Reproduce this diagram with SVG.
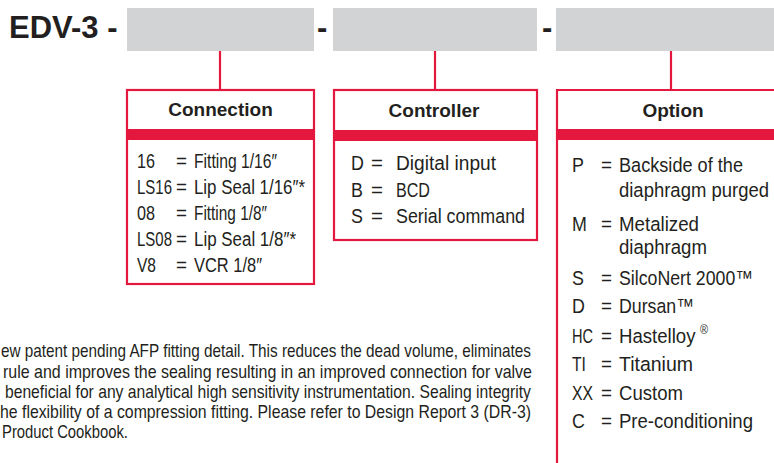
<svg xmlns="http://www.w3.org/2000/svg" width="774" height="463" viewBox="0 0 774 463">
<style>
.t{font-family:"Liberation Sans",Arial,sans-serif;fill:#231f20}
.c{font-size:19.5px}
.b{font-size:20.5px}
.p{font-size:18px}
.h{font-family:"Liberation Sans",Arial,sans-serif;font-weight:bold;font-size:19px;fill:#231f20;text-anchor:middle}
.big{font-family:"Liberation Sans",Arial,sans-serif;font-weight:bold;font-size:31px;fill:#231f20}
.slot{fill:#d1d3d4}
.box{fill:#fff;stroke:#e4173e;stroke-width:2.2}
.band{fill:#e4173e}
.ln{stroke:#e4173e;stroke-width:2.2;fill:none}
</style>
<rect width="774" height="463" fill="#fff"/>
<g id="title">
<text class="big" x="9" y="38">EDV-3 -</text>
<rect class="slot" x="127" y="8" width="187" height="43"/>
<text class="big" x="317" y="38">-</text>
<rect class="slot" x="333" y="8" width="204" height="43"/>
<text class="big" x="542" y="38">-</text>
<rect class="slot" x="556" y="8" width="218" height="43"/>
</g>
<g id="connectors">
<line class="ln" x1="220" y1="51" x2="220" y2="90"/>
<line class="ln" x1="435" y1="51" x2="435" y2="90"/>
<line class="ln" x1="671" y1="51" x2="671" y2="90"/>
</g>
<g id="connection">
<rect class="box" x="127" y="90" width="187" height="194"/>
<rect class="band" x="127" y="129" width="187" height="11"/>
<text class="h" x="220.5" y="116">Connection</text>
<g transform="scale(0.87 1)">
<text class="t c" x="157.47" y="168" textLength="20.69" lengthAdjust="spacingAndGlyphs">16</text>
<text class="t c" x="202.3" y="168" textLength="12.64" lengthAdjust="spacingAndGlyphs">=</text>
<text class="t c" x="222.99" y="168" textLength="95.4" lengthAdjust="spacingAndGlyphs">Fitting 1/16″</text>
<text class="t c" x="157.47" y="194" textLength="40.23" lengthAdjust="spacingAndGlyphs">LS16</text>
<text class="t c" x="202.3" y="194" textLength="12.64" lengthAdjust="spacingAndGlyphs">=</text>
<text class="t c" x="222.99" y="194" textLength="127.59" lengthAdjust="spacingAndGlyphs">Lip Seal 1/16″*</text>
<text class="t c" x="157.47" y="220" textLength="20.69" lengthAdjust="spacingAndGlyphs">08</text>
<text class="t c" x="202.3" y="220" textLength="12.64" lengthAdjust="spacingAndGlyphs">=</text>
<text class="t c" x="222.99" y="220" textLength="83.91" lengthAdjust="spacingAndGlyphs">Fitting 1/8″</text>
<text class="t c" x="157.47" y="246" textLength="40.23" lengthAdjust="spacingAndGlyphs">LS08</text>
<text class="t c" x="202.3" y="246" textLength="12.64" lengthAdjust="spacingAndGlyphs">=</text>
<text class="t c" x="222.99" y="246" textLength="117.24" lengthAdjust="spacingAndGlyphs">Lip Seal 1/8″*</text>
<text class="t c" x="157.47" y="272" textLength="21.84" lengthAdjust="spacingAndGlyphs">V8</text>
<text class="t c" x="202.3" y="272" textLength="12.64" lengthAdjust="spacingAndGlyphs">=</text>
<text class="t c" x="222.99" y="272" textLength="78.16" lengthAdjust="spacingAndGlyphs">VCR 1/8″</text>
</g>
</g>
<g id="controller">
<rect class="box" x="334" y="90" width="203" height="150"/>
<rect class="band" x="334" y="130" width="203" height="11"/>
<text class="h" x="434" y="117">Controller</text>
<g transform="scale(0.87 1)">
<text class="t b" x="403.45" y="170">D</text>
<text class="t b" x="426.44" y="170" textLength="13.79" lengthAdjust="spacingAndGlyphs">=</text>
<text class="t b" x="455.17" y="170" textLength="114.94" lengthAdjust="spacingAndGlyphs">Digital input</text>
<text class="t b" x="403.45" y="197">B</text>
<text class="t b" x="426.44" y="197" textLength="13.79" lengthAdjust="spacingAndGlyphs">=</text>
<text class="t b" x="455.17" y="197" textLength="39.08" lengthAdjust="spacingAndGlyphs">BCD</text>
<text class="t b" x="403.45" y="223">S</text>
<text class="t b" x="426.44" y="223" textLength="13.79" lengthAdjust="spacingAndGlyphs">=</text>
<text class="t b" x="455.17" y="223" textLength="148.28" lengthAdjust="spacingAndGlyphs">Serial command</text>
</g>
</g>
<g id="option">
<path class="box" d="M774 90 H557 V463" fill="none"/>
<rect class="band" x="557" y="129" width="217" height="11"/>
<text class="h" x="673" y="117">Option</text>
<g transform="scale(0.87 1)">
<text class="t b" x="657.47" y="172">P</text>
<text class="t b" x="690.8" y="172" textLength="12.64" lengthAdjust="spacingAndGlyphs">=</text>
<text class="t b" x="711.49" y="172" textLength="142.53" lengthAdjust="spacingAndGlyphs">Backside of the</text>
<text class="t b" x="711.49" y="197" textLength="172.41" lengthAdjust="spacingAndGlyphs">diaphragm purged</text>
<text class="t b" x="657.47" y="231">M</text>
<text class="t b" x="690.8" y="231" textLength="12.64" lengthAdjust="spacingAndGlyphs">=</text>
<text class="t b" x="711.49" y="231" textLength="91.95" lengthAdjust="spacingAndGlyphs">Metalized</text>
<text class="t b" x="711.49" y="254" textLength="101.15" lengthAdjust="spacingAndGlyphs">diaphragm</text>
<text class="t b" x="657.47" y="285">S</text>
<text class="t b" x="690.8" y="285" textLength="12.64" lengthAdjust="spacingAndGlyphs">=</text>
<text class="t b" x="711.49" y="285" textLength="154.02" lengthAdjust="spacingAndGlyphs">SilcoNert 2000™</text>
<text class="t b" x="657.47" y="313">D</text>
<text class="t b" x="690.8" y="313" textLength="12.64" lengthAdjust="spacingAndGlyphs">=</text>
<text class="t b" x="711.49" y="313" textLength="86.21" lengthAdjust="spacingAndGlyphs">Dursan™</text>
<text class="t b" x="657.47" y="343" textLength="24.14" lengthAdjust="spacingAndGlyphs">HC</text>
<text class="t b" x="690.8" y="343" textLength="12.64" lengthAdjust="spacingAndGlyphs">=</text>
<text class="t b" x="711.49" y="343" textLength="102.3" lengthAdjust="spacingAndGlyphs">Hastelloy<tspan font-size="12" dx="5" dy="-9">®</tspan></text>
<text class="t b" x="657.47" y="371" textLength="16.09" lengthAdjust="spacingAndGlyphs">TI</text>
<text class="t b" x="690.8" y="371" textLength="12.64" lengthAdjust="spacingAndGlyphs">=</text>
<text class="t b" x="711.49" y="371" textLength="85.06" lengthAdjust="spacingAndGlyphs">Titanium</text>
<text class="t b" x="657.47" y="400" textLength="24.14" lengthAdjust="spacingAndGlyphs">XX</text>
<text class="t b" x="690.8" y="400" textLength="12.64" lengthAdjust="spacingAndGlyphs">=</text>
<text class="t b" x="711.49" y="400" textLength="73.56" lengthAdjust="spacingAndGlyphs">Custom</text>
<text class="t b" x="657.47" y="428">C</text>
<text class="t b" x="690.8" y="428" textLength="12.64" lengthAdjust="spacingAndGlyphs">=</text>
<text class="t b" x="711.49" y="428" textLength="154.02" lengthAdjust="spacingAndGlyphs">Pre-conditioning</text>
</g>
</g>
<g id="note" transform="scale(0.86 1)">
<text class="t p" x="1.16" y="357.5" textLength="616.3" lengthAdjust="spacingAndGlyphs">ew patent pending AFP fitting detail. This reduces the dead volume, eliminates</text>
<text class="t p" x="3.49" y="378" textLength="615.1" lengthAdjust="spacingAndGlyphs">rule and improves the sealing resulting in an improved connection for valve</text>
<text class="t p" x="5.81" y="398" textLength="611.6" lengthAdjust="spacingAndGlyphs">beneficial for any analytical high sensitivity instrumentation. Sealing integrity</text>
<text class="t p" x="0" y="418" textLength="617.4" lengthAdjust="spacingAndGlyphs">he flexibility of a compression fitting. Please refer to Design Report 3 (DR-3)</text>
<text class="t p" x="2.33" y="438.5" textLength="146.5" lengthAdjust="spacingAndGlyphs">Product Cookbook.</text>
</g>
</svg>
